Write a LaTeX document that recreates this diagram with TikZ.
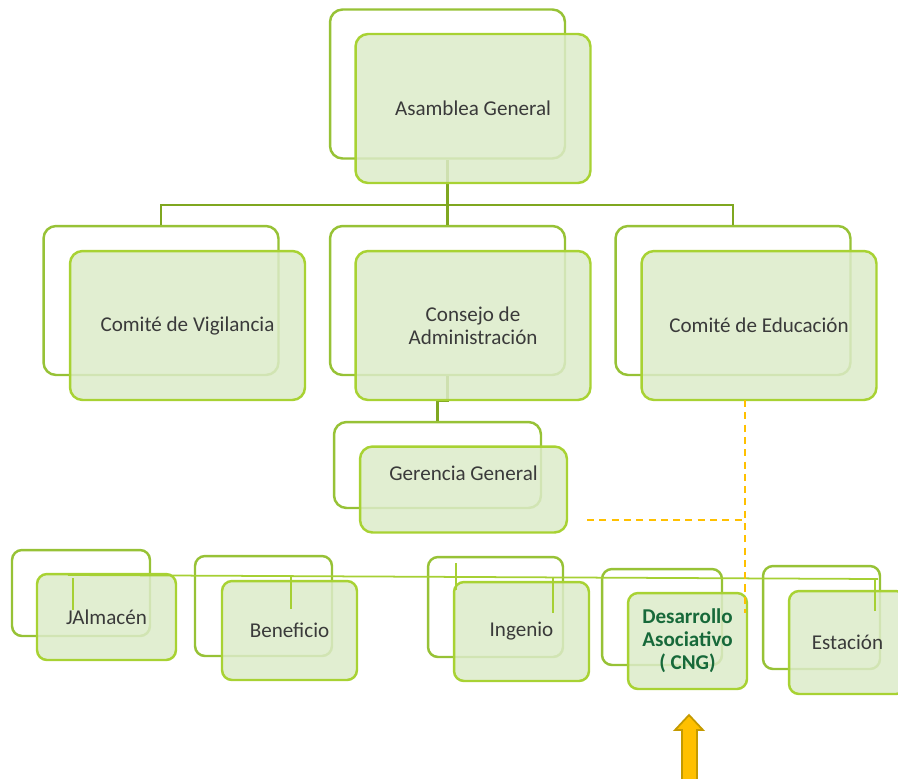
\documentclass[tikz,border=0pt]{standalone}
\usepackage{fontspec}
\setmainfont{Carlito}
\definecolor{backline}{HTML}{97C236}
\definecolor{frontline}{HTML}{A8D233}
\definecolor{boxfill}{HTML}{DCEBC9}
\definecolor{linkgreen}{HTML}{7FA720}
\definecolor{busgreen}{HTML}{A6D034}
\definecolor{dashorange}{HTML}{FFC000}
\definecolor{arrowedge}{HTML}{C49A00}
\definecolor{textgray}{HTML}{3A3A3A}
\definecolor{cnggreen}{HTML}{17693A}
\tikzset{
  backbox/.style={draw=backline, line width=1.4pt, rounded corners=0.25cm},
  frontbox/.style={draw=frontline, line width=1.4pt, rounded corners=0.25cm,
    fill=boxfill, fill opacity=0.85, text opacity=1, text=textgray,
    font=\fontsize{12}{13}\selectfont, align=center},
  bigbox/.style={minimum width=4.7cm, minimum height=2.98cm},
  gerbox/.style={minimum width=4.14cm, minimum height=1.72cm},
  link/.style={draw=linkgreen, line width=1.3pt},
  bus/.style={draw=busgreen, line width=1pt},
  dashlink/.style={draw=dashorange, line width=1.1pt, dash pattern=on 4pt off 3pt}
}
\begin{document}
\begin{tikzpicture}[x=0.02cm,y=-0.02cm]
\useasboundingbox (0,0) rectangle (898,778);
\clip (0,0) rectangle (898,778);
%
\node[backbox,bigbox] (asamB) at (447.5,84) {};
\node[backbox,bigbox] (vigB) at (161,300.5) {};
\node[backbox,bigbox] (conB) at (447.5,300.5) {};
\node[backbox,bigbox] (eduB) at (733,300.5) {};
\node[backbox,gerbox] (gerB) at (437.5,465) {};
%
\node[backbox,minimum width=2.76cm,minimum height=1.72cm,rounded corners=0.2cm] (almB) at (81,593) {};
\node[backbox,minimum width=2.74cm,minimum height=2cm,rounded corners=0.2cm] (benB) at (263.5,606) {};
\node[backbox,minimum width=2.7cm,minimum height=2cm,rounded corners=0.2cm] (ingB) at (495.5,607) {};
\node[backbox,minimum width=2.4cm,minimum height=1.92cm,rounded corners=0.2cm] (desB) at (662,617) {};
\node[backbox,minimum width=2.34cm,minimum height=2.06cm,rounded corners=0.2cm] (estB) at (821.5,617.5) {};
%
\coordinate (topBus) at (447.5,205);
\draw[link] (asamB.south) -- (conB.north);
\draw[link] (vigB.north) |- (topBus) -| (eduB.north);
\draw[link] (conB.south) -- ++(0,25) -| (gerB.north);
%
\node[frontbox,bigbox] (asamF) at (473,108.5) {Asamblea General};
\node[frontbox,bigbox] (vigF) at (187.5,325.5) {Comité de Vigilancia};
\node[frontbox,bigbox] (conF) at (473,325.5) {Consejo de\\Administración};
\node[frontbox,bigbox] (eduF) at (759,325.5) {Comité de Educación};
\node[frontbox,gerbox] (gerF) at (463.5,489.5) {};
\node[text=textgray,font=\fontsize{12}{13}\selectfont] (gerT) at (463.5,473) {Gerencia General};
%
\node[frontbox,minimum width=2.78cm,minimum height=1.72cm,rounded corners=0.2cm] (almF) at (106.5,617) {JAlmacén};
\node[frontbox,minimum width=2.7cm,minimum height=1.98cm,rounded corners=0.2cm] (benF) at (289.5,630.5) {Beneficio};
\node[frontbox,minimum width=2.7cm,minimum height=1.98cm,rounded corners=0.2cm] (ingF) at (521.5,631.5) {Ingenio};
\node[frontbox,minimum width=2.38cm,minimum height=1.92cm,rounded corners=0.2cm,text=cnggreen,font=\fontsize{12}{13}\selectfont\bfseries] (desF) at (687.5,641) {Desarrollo\\Asociativo\\( CNG)};
\node[frontbox,minimum width=2.34cm,minimum height=2.06cm,rounded corners=0.2cm] (estF) at (847.5,642.5) {Estación};
%
\coordinate (busL) at (68,575);
\coordinate (busR) at (878,579);
\draw[bus] (busL) -- (busR);
\foreach \tx/\ta/\tb in {73/578/610, 291/577/609, 456/563/590, 553/578/613, 875/579/611}
  \draw[bus] (\tx,\ta) -- (\tx,\tb);
%
\coordinate (eduD) at (745,400);
\coordinate (gerD) at (587,520);
\coordinate (desD) at (745,613);
\draw[dashlink] (eduD) -- (desD);
\draw[dashlink] (gerD) -- (gerD -| eduD);
%
\filldraw[fill=dashorange,draw=arrowedge,line width=1pt] (689,715) -- (703,730) -- (697,730) -- (697,790) -- (682,790) -- (682,730) -- (675,730) -- cycle;
\end{tikzpicture}
\end{document}
